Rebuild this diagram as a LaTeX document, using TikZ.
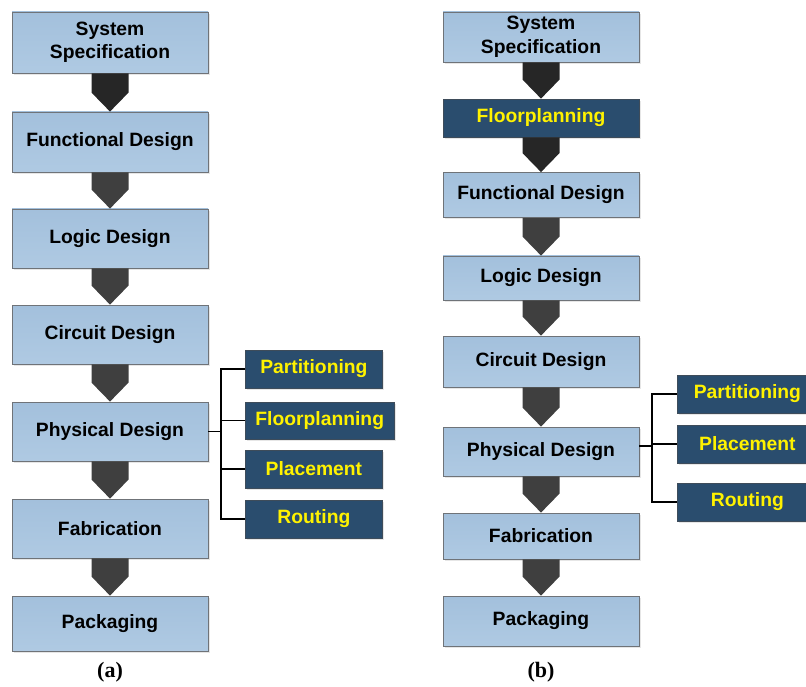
\documentclass[tikz,border=0pt]{standalone}
\usepackage{fontspec}
\setmainfont{Liberation Serif}
\setsansfont{Liberation Sans}
\usepackage{xcolor}
\usepackage{tikz}
\usetikzlibrary{calc,shadows}

\definecolor{stepfill}{HTML}{A8C5E0}
\definecolor{stepfilltop}{HTML}{A3C0DC}
\definecolor{stepline}{HTML}{6F7378}
\definecolor{subfill}{HTML}{2A4D6E}
\definecolor{subline}{HTML}{3E4C5A}
\definecolor{arrdark}{HTML}{262626}
\definecolor{arrgray}{HTML}{3F3F3F}

\tikzset{
	stepbox/.style={draw=stepline, line width=0.8pt, top color=stepfilltop, bottom color=stepfill!92!white,
		minimum width=196pt, inner sep=0pt, align=center,
		font=\sffamily\bfseries\fontsize{19.3}{23.5}\selectfont,
		drop shadow={opacity=0.2, shadow xshift=2pt, shadow yshift=-2pt}},
	subbox/.style={draw=subline, line width=0.8pt, fill=subfill, text=yellow,
		minimum width=137pt, minimum height=38pt, inner xsep=10pt, anchor=west,
		font=\sffamily\bfseries\fontsize{19.3}{23.5}\selectfont,
		drop shadow={opacity=0.2, shadow xshift=2pt, shadow yshift=-2pt}},
	tree/.style={line width=1.3pt, black},
	caption/.style={font=\bfseries\fontsize{22}{24}\selectfont}
}

% block arrow from the bottom of #1 to the top of #2
\newcommand{\blkarrow}[3]{%
	\fill[#3] ($(#1.south)+(-18.5,0)$) -- ($(#1.south)+(18.5,0)$)
		-- ($(#2.north)+(18.5,-19)$) -- (#2.north) -- ($(#2.north)+(-18.5,-19)$) -- cycle;}

\begin{document}
\begin{tikzpicture}[x=1pt,y=-1pt]
		\useasboundingbox (0,0) rectangle (806,687);
		%
		% (a)
		\node[stepbox, minimum height=61pt] (sysA) at (110,42.5) {System\\Specification};
		\node[stepbox, minimum height=60pt] (funA) at (110,142) {Functional Design};
		\node[stepbox, minimum height=59pt] (logA) at (110,238.5) {Logic Design};
		\node[stepbox, minimum height=59pt] (cirA) at (110,334.5) {Circuit Design};
		\node[stepbox, minimum height=59pt] (phyA) at (110,431.5) {Physical Design};
		\node[stepbox, minimum height=59pt] (fabA) at (110,528.5) {Fabrication};
		\node[stepbox, minimum height=55pt] (pacA) at (110,623.5) {Packaging};
		%
		\node[subbox] (parA) at (245,369) {Partitioning};
		\node[subbox, minimum height=37pt] (floA) at (245,420.5) {Floorplanning};
		\node[subbox] (plaA) at (245,469) {Placement};
		\node[subbox] (rouA) at (245,519) {Routing};
		%
		\blkarrow{sysA}{funA}{arrdark}
		\blkarrow{funA}{logA}{arrgray}
		\blkarrow{logA}{cirA}{arrgray}
		\blkarrow{cirA}{phyA}{arrgray}
		\blkarrow{phyA}{fabA}{arrgray}
		\blkarrow{fabA}{pacA}{arrgray}
		%
		\coordinate (busA) at (221,431.5);
		\draw[tree] (phyA.east) -- (busA);
		\draw[tree] (parA.west) -| (busA) |- (rouA.west);
		\draw[tree] (busA |- floA.west) -- (floA.west);
		\draw[tree] (busA |- plaA.west) -- (plaA.west);
		%
		\node[caption] (capA) at (110,672) {(a)};
		%
		% (b)
		\node[stepbox, minimum height=50pt] (sysB) at (541,37) {System\\Specification};
		\node[subbox, anchor=center, minimum width=196pt] (floB) at (541,118) {Floorplanning};
		\node[stepbox, minimum height=45pt] (funB) at (541,195) {Functional Design};
		\node[stepbox, minimum height=44pt] (logB) at (541,278) {Logic Design};
		\node[stepbox, minimum height=51pt] (cirB) at (541,361.5) {Circuit Design};
		\node[stepbox, minimum height=49pt] (phyB) at (541,451.5) {Physical Design};
		\node[stepbox, minimum height=46pt] (fabB) at (541,536) {Fabrication};
		\node[stepbox, minimum height=50pt] (pacB) at (541,621) {Packaging};
		%
		\node[subbox, minimum width=140pt] (parB) at (677,394) {Partitioning};
		\node[subbox, minimum width=140pt] (plaB) at (677,444) {Placement};
		\node[subbox, minimum width=140pt] (rouB) at (677,502) {Routing};
		%
		\blkarrow{sysB}{floB}{arrdark}
		\blkarrow{floB}{funB}{arrdark}
		\blkarrow{funB}{logB}{arrgray}
		\blkarrow{logB}{cirB}{arrgray}
		\blkarrow{cirB}{phyB}{arrgray}
		\blkarrow{phyB}{fabB}{arrgray}
		\blkarrow{fabB}{pacB}{arrgray}
		%
		\coordinate (busB) at (652,446);
		\draw[tree] (phyB.east |- busB) -- (busB);
		\draw[tree] (parB.west) -| (busB) |- (rouB.west);
		\draw[tree] (busB |- plaB.west) -- (plaB.west);
		%
		\node[caption] (capB) at (541,672) {(b)};
\end{tikzpicture}
\end{document}
